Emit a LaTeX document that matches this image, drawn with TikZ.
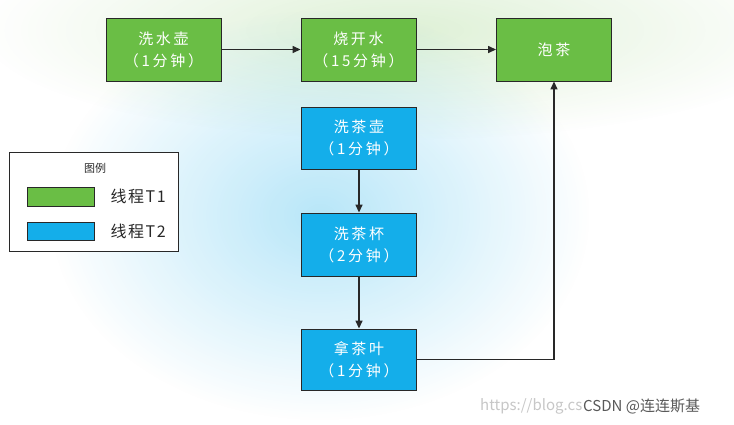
\documentclass[tikz,border=0pt]{standalone}
\usepackage{fontspec}
\setmainfont{Noto Sans CJK SC}
\usetikzlibrary{arrows.meta,positioning,fadings}
\definecolor{tgreen}{RGB}{106,190,69}
\definecolor{tblue}{RGB}{20,174,234}
\definecolor{edge}{RGB}{40,40,40}
\tikzfading[name=glowfade, inner color=transparent!0, outer color=transparent!100]
\tikzset{
  box/.style={draw=edge,line width=0.9pt,minimum width=115pt,minimum height=63pt,inner sep=0pt,align=center,text=white,font=\fontsize{15}{22}\selectfont\addfontfeature{LetterSpace=18}},
  gbox/.style={box,fill=tgreen},
  bbox/.style={box,fill=tblue},
  conn/.style={draw=edge,line width=1.4pt,-{Triangle[length=8pt,width=7pt]}},
  legtext/.style={font=\fontsize{16}{18}\selectfont\addfontfeature{LetterSpace=10},text=edge,anchor=west}
}
\begin{document}
\begin{tikzpicture}[x=1pt,y=-1pt]
\useasboundingbox (0,0) rectangle (734,424);
\fill[white] (0,0) rectangle (734,424);
% background glows
\fill[tgreen,opacity=0.22,path fading=glowfade] (400,30) ellipse (420 and 110);
\fill[tblue,opacity=0.30,path fading=glowfade] (320,215) ellipse (270 and 205);
% green nodes
\node[gbox] (a) at (163.5,49.5) {洗水壶\\（1分钟）};
\node[gbox] (b) at (358.5,49.5) {烧开水\\（15分钟）};
\node[gbox] (c) at (554,49.5) {泡茶};
% blue nodes
\node[bbox,minimum height=62pt] (d) at (359,138) {洗茶壶\\（1分钟）};
\node[bbox,minimum height=63pt] (e) at (359,244.5) {洗茶杯\\（2分钟）};
\node[bbox,minimum height=61pt] (f) at (359,359.5) {拿茶叶\\（1分钟）};
% connectors
\draw[conn] (a) -- (b);
\draw[conn] (b) -- (c);
\draw[conn] (d) -- (e);
\draw[conn] (e) -- (f);
\draw[conn] (f.east) -| (c.south);
% legend
\node[draw=edge,line width=0.8pt,fill=white,minimum width=169pt,minimum height=99pt,inner sep=0pt] (leg) at (93.5,201.5) {};
\node[font=\fontsize{11}{13}\selectfont,text=edge] (legt) at (95,168) {图例};
\node[draw=edge,line width=0.8pt,fill=tgreen,minimum width=67pt,minimum height=19pt,inner sep=0pt] (lg) at (60.5,196.5) {};
\node[draw=edge,line width=0.8pt,fill=tblue,minimum width=67pt,minimum height=18pt,inner sep=0pt] (lb) at (60.5,231) {};
\node[legtext] (lgt) at (107,196.5) {线程T1};
\node[legtext] (lbt) at (107,231) {线程T2};
% watermark
\node[anchor=west,font=\fontsize{15}{17}\selectfont,text=black!22,inner sep=0pt] (url) at (480,406) {https://blog.cs};
\node[anchor=west,font=\fontsize{15}{17}\selectfont,text=black!65,inner sep=0pt] (wm) at (583,406) {CSDN @连连斯基};
\end{tikzpicture}
\end{document}
